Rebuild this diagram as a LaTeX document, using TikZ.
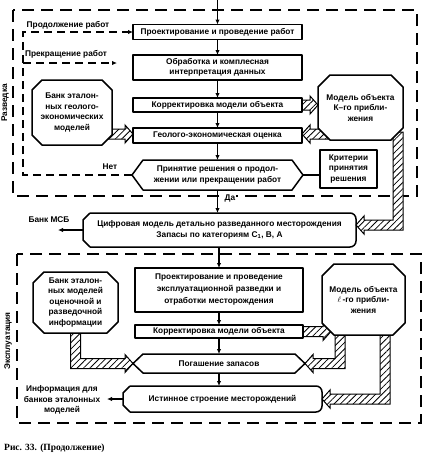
\documentclass[tikz,border=0pt]{standalone}
\usepackage{fontspec}
\setmainfont{Liberation Serif}
\setsansfont{Liberation Sans}
\usetikzlibrary{arrows.meta,patterns.meta,backgrounds,calc}
\newcommand\lbl{\sffamily\bfseries\fontsize{8.3}{10.5}\selectfont}
\newcommand\capf{\rmfamily\bfseries\fontsize{9.5}{11}\selectfont}
% hatched block arrows
\newcommand\hR[2]{\path[hatchar] ($(#1)+(0,-5)$) -- ($(#2)+(-8,-5)$) -- ($(#2)+(-8,-9)$) -- (#2) -- ($(#2)+(-8,9)$) -- ($(#2)+(-8,5)$) -- ($(#1)+(0,5)$) -- cycle;}
\newcommand\hL[2]{\path[hatchar] ($(#1)+(0,-5)$) -- ($(#2)+(8,-5)$) -- ($(#2)+(8,-9)$) -- (#2) -- ($(#2)+(8,9)$) -- ($(#2)+(8,5)$) -- ($(#1)+(0,5)$) -- cycle;}
\newcommand\hDL[2]{\path[hatchar] ($(#1)+(-5,0)$) -- ($(#1)+(5,0)$) -- ($(#1 |- #2)+(5,5)$) -- ($(#2)+(8,5)$) -- ($(#2)+(8,9)$) -- (#2) -- ($(#2)+(8,-9)$) -- ($(#2)+(8,-5)$) -- ($(#1 |- #2)+(-5,-5)$) -- cycle;}
\newcommand\hDR[2]{\path[hatchar] ($(#1)+(-5,0)$) -- ($(#1)+(5,0)$) -- ($(#1 |- #2)+(5,-5)$) -- ($(#2)+(-8,-5)$) -- ($(#2)+(-8,-9)$) -- (#2) -- ($(#2)+(-8,9)$) -- ($(#2)+(-8,5)$) -- ($(#1 |- #2)+(-5,5)$) -- cycle;}
\newcommand\octo[2]{\draw[boxline,fill=white] ([xshift=#2pt]#1.north west) -- ([xshift=-#2pt]#1.north east) -- ([yshift=-#2pt]#1.north east) -- ([yshift=#2pt]#1.south east) -- ([xshift=-#2pt]#1.south east) -- ([xshift=#2pt]#1.south west) -- ([yshift=#2pt]#1.south west) -- ([yshift=-#2pt]#1.north west) -- cycle;}
\begin{document}
\begin{tikzpicture}[x=1pt,y=-1pt,
  tb/.style={font=\lbl, align=center, inner sep=0pt, outer sep=0pt},
  boxline/.style={draw, line width=1.5pt, line join=round},
  box/.style={tb, boxline},
  arr/.style={line width=1.2pt, -{Latex[length=5pt,width=4.5pt]}},
  dshout/.style={line width=1.2pt, dash pattern=on 12pt off 7pt},
  dshin/.style={line width=1.2pt, dash pattern=on 8pt off 5pt},
  hatchar/.style={draw, line width=1pt, line join=miter, preaction={fill=white},
     pattern={Lines[angle=45,distance=4.5pt,line width=0.8pt]}},
  lab/.style={font=\lbl, align=center, inner sep=1pt}]
\useasboundingbox (0,0) rectangle (427,458);

% main nodes
\node[box, minimum width=169pt, minimum height=15pt] (b1) at (217.5,32) {Проектирование и проведение работ};
\node[box, minimum width=169pt, minimum height=25pt] (b2) at (217.5,67.5) {Обработка и комплесная\\интерпретация данных};
\node[box, minimum width=169pt, minimum height=14pt] (b3) at (217.5,105) {Корректировка модели объекта};
\node[box, minimum width=169pt, minimum height=15pt] (b4) at (217.5,135.5) {Геолого-экономическая оценка};
\node[tb, minimum width=171pt, minimum height=30pt] (dec) at (217.5,175) {Принятие решения о продол-\\жении или прекращении работ};
\node[box, minimum width=57pt, minimum height=38pt] (crit) at (348.5,169) {Критерии\\принятия\\решения};
\node[tb, minimum width=85pt, minimum height=65pt] (mk) at (360.5,107.5) {Модель объекта\\К–го прибли-\\жения};
\node[tb, minimum width=80pt, minimum height=65pt] (bank1) at (72,112.5) {Банк эталон-\\ных геолого-\\экономических\\моделей};
\node[tb, minimum width=273pt, minimum height=34pt] (dig) at (219.5,230) {Цифровая модель детально разведанного месторождения\\Запасы по категориям C\textsubscript{1}, B, A};
\node[box, minimum width=168pt, minimum height=44pt, font=\sffamily\bfseries\fontsize{8.3}{12}\selectfont] (b5) at (219,290) {Проектирование и проведение\\эксплуатационной разведки и\\отработки месторождения};
\node[box, minimum width=168pt, minimum height=13pt] (b6) at (219,331.5) {Корректировка модели объекта};
\node[tb, minimum width=172pt, minimum height=19pt] (hex2) at (219,363.5) {Погашение запасов};
\node[tb, minimum width=199pt, minimum height=26pt] (ist) at (222.5,399) {Истинное строение месторождений};
\node[tb, minimum width=83pt, minimum height=71pt] (ml) at (363.5,299.5) {Модель объекта\\$\ell$\,-го прибли-\\жения};
\node[tb, minimum width=85pt, minimum height=61pt] (bank2) at (75.5,302.5) {Банк эталон-\\ных моделей\\оценочной и\\разведочной\\информации};

% helper coordinates
\coordinate (top) at (217.5,0);
\coordinate (fb) at (23,0);
\coordinate (stopend) at (117,63);
\coordinate (msbend) at (58,230);
\coordinate (infoend) at (107,399);
\coordinate (bk1s) at (106,134);
\coordinate (b4l) at ([yshift=1.5pt]b4.west);
\coordinate (b4r) at ([yshift=1.5pt]b4.east);
\coordinate (mks) at (328,134);
\coordinate (mkt) at (mk.west |- b3.east);
\coordinate (mkc) at (398,132);
\coordinate (dtip) at ([yshift=5pt]dig.east);
\coordinate (bk2c) at (75.5,325);
\coordinate (mlt) at (331,331.5);
\coordinate (mlc1) at (340,330);
\coordinate (mlc2) at (385,330);

\begin{scope}[on background layer]
  % dashed frames
  \draw[dshout] (13,10) rectangle (417,196);
  \draw[dshout] (17,254) rectangle (421,423);
  % hatched arrows
  \hR{bk1s}{b4l}
  \hR{b3.east}{mkt}
  \hL{mks}{b4r}
  \hDL{mkc}{dtip}
  \hDR{bk2c}{hex2.west}
  \hR{b6.east}{mlt}
  \hDL{mlc1}{hex2.east}
  \hDL{mlc2}{ist.east}
  % octagonal blocks
  \octo{bank1}{10}
  \octo{mk}{12}
  \octo{ml}{12}
  \octo{bank2}{11}
\end{scope}

% hexagons and rounded blocks
\draw[boxline] (dec.west) -- ([xshift=11pt]dec.north west) -- ([xshift=-11pt]dec.north east) -- (dec.east) -- ([xshift=-11pt]dec.south east) -- ([xshift=11pt]dec.south west) -- cycle;
\draw[boxline] (hex2.west) -- ([xshift=10pt]hex2.north west) -- ([xshift=-10pt]hex2.north east) -- (hex2.east) -- ([xshift=-10pt]hex2.south east) -- ([xshift=10pt]hex2.south west) -- cycle;
\draw[boxline, rounded corners=6pt] ([xshift=7pt]dig.north west) -- (dig.north east) -- (dig.south east) -- ([xshift=7pt]dig.south west);
\draw[boxline] ([xshift=7pt]dig.south west) -- ([yshift=7pt]dig.south west) -- ([yshift=-7pt]dig.north west) -- ([xshift=7pt]dig.north west);
\draw[boxline, rounded corners=6pt] ([xshift=7pt]ist.north west) -- (ist.north east) -- (ist.south east) -- ([xshift=7pt]ist.south west);
\draw[boxline] ([xshift=7pt]ist.south west) -- ([yshift=7pt]ist.south west) -- ([yshift=-7pt]ist.north west) -- ([xshift=7pt]ist.north west);

% solid arrows
\draw[arr] (top) -- (b1);
\draw[arr] (b1) -- (b2);
\draw[arr] (b2) -- (b3);
\draw[arr] (b3) -- (b4);
\draw[arr] (b4) -- (dec);
\draw[arr] (dec.south) -- (dec.south |- dig.north);
\draw[arr] (b5.north |- dig.south) -- (b5.north);
\draw[arr] (b5) -- (b6);
\draw[arr] (b6) -- (hex2);
\draw[arr] (hex2.south) -- (hex2.south |- ist.north);
\draw[line width=1.2pt] (dec.east) -- (dec.east -| crit.west);
\draw[arr] (dig.west) -- (msbend);
\draw[arr] (ist.west) -- (infoend);

% dashed feedback
\draw[dshin, -{Latex[length=5pt,width=4.5pt]}] (dec.west) -- (dec.west -| fb) -- (fb |- b1.west) -- (b1.west);
\draw[dshin, -{Latex[length=5pt,width=4.5pt]}] (fb |- stopend) -- (stopend);

% labels
\node[lab] (l1) at (68,25) {Продолжение работ};
\node[lab] (l2) at (66,54) {Прекращение работ};
\node[lab] (lnet) at (110,167) {Нет};
\node[lab, fill=white] (lda) at (230,198) {Да};
\node[lab] (lmsb) at (49,220) {Банк МСБ};
\node[lab] (linfo) at (62,400) {Информация для\\банков эталонных\\моделей};
\node[lab, rotate=90] (lrazv) at (5,103) {Разведка};
\node[lab, rotate=90] (lexpl) at (8,341) {Эксплуатация};
\node[font=\capf, anchor=west, inner sep=0pt] (cap) at (4,448) {Рис. 33. (Продолжение)};
\end{tikzpicture}
\end{document}
